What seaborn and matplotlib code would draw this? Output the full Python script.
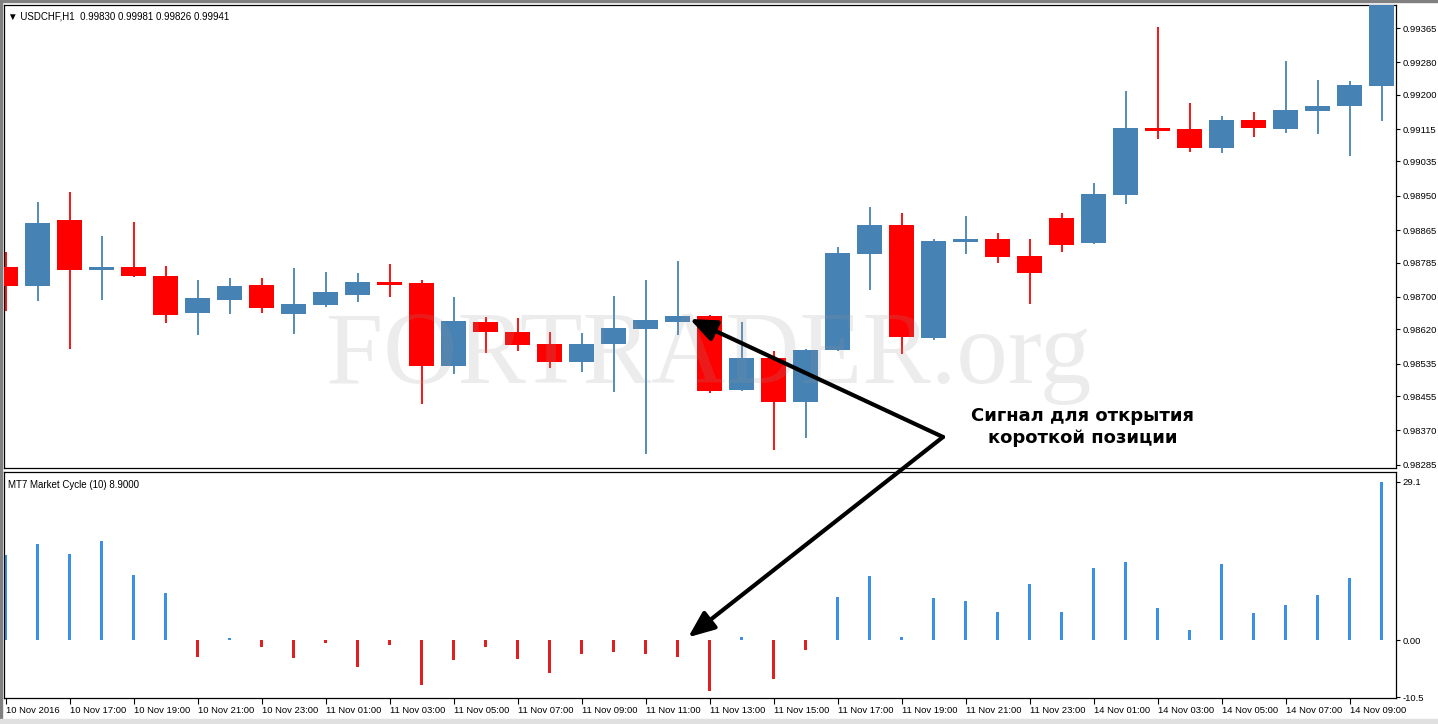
import matplotlib
matplotlib.use("Agg")
import matplotlib.pyplot as plt
from matplotlib.patches import Rectangle
import seaborn as sns
import numpy as np

# --- данные свечей USDCHF H1 ---
opens = [0.98774, 0.98727, 0.98890, 0.98767, 0.98774, 0.98752, 0.98660, 0.98693, 0.98730, 0.98658,
         0.98680, 0.98705, 0.98737, 0.98735, 0.98529, 0.98638, 0.98614, 0.98584, 0.98539, 0.98584,
         0.98621, 0.98638, 0.98653, 0.98470, 0.98549, 0.98441, 0.98569, 0.98806, 0.98878, 0.98599,
         0.98836, 0.98844, 0.98801, 0.98895, 0.98834, 0.98952, 0.99118, 0.99115, 0.99068, 0.99138,
         0.99115, 0.99160, 0.99172, 0.99222]
highs = [0.98811, 0.98935, 0.98960, 0.98851, 0.98886, 0.98777, 0.98742, 0.98747, 0.98747, 0.98772,
         0.98762, 0.98759, 0.98782, 0.98742, 0.98700, 0.98651, 0.98648, 0.98614, 0.98611, 0.98703,
         0.98742, 0.98789, 0.98656, 0.98638, 0.98567, 0.98572, 0.98824, 0.98923, 0.98908, 0.98844,
         0.98900, 0.98858, 0.98844, 0.98908, 0.98982, 0.99209, 0.99367, 0.99180, 0.99148, 0.99157,
         0.99283, 0.99236, 0.99234, 0.99460]
lows = [0.98665, 0.98690, 0.98572, 0.98693, 0.98750, 0.98636, 0.98606, 0.98658, 0.98660, 0.98609,
        0.98675, 0.98688, 0.98700, 0.98436, 0.98510, 0.98562, 0.98567, 0.98525, 0.98515, 0.98465,
        0.98312, 0.98606, 0.98463, 0.98468, 0.98322, 0.98352, 0.98567, 0.98717, 0.98559, 0.98594,
        0.98806, 0.98784, 0.98683, 0.98811, 0.98831, 0.98930, 0.99091, 0.99059, 0.99056, 0.99096,
        0.99106, 0.99103, 0.99049, 0.99135]
closes = [0.98727, 0.98883, 0.98767, 0.98774, 0.98752, 0.98656, 0.98698, 0.98727, 0.98672, 0.98683,
          0.98713, 0.98737, 0.98730, 0.98529, 0.98641, 0.98614, 0.98581, 0.98539, 0.98584, 0.98624,
          0.98643, 0.98653, 0.98468, 0.98549, 0.98441, 0.98569, 0.98809, 0.98878, 0.98601, 0.98839,
          0.98844, 0.98799, 0.98759, 0.98829, 0.98955, 0.99118, 0.99110, 0.99068, 0.99138, 0.99118,
          0.99162, 0.99172, 0.99224, 0.99440]

# индикатор MT7 Market Cycle (10)
cycle = [15.7, 17.7, 15.8, 18.2, 12.0, 8.7, -3.1, 0.4, -1.3, -3.3,
         -0.55, -5.0, -0.9, -8.3, -3.7, -1.3, -3.5, -6.1, -2.6, -2.2,
         -2.6, -3.1, -9.3, 0.55, -7.1, -1.8, 7.9, 11.8, 0.55, 7.7,
         7.2, 5.2, 10.3, 5.2, 13.3, 14.4, 5.9, 1.8, 14.0, 5.0,
         6.4, 8.3, 11.4, 29.1]

time_labels = ["10 Nov 2016", "10 Nov 17:00", "10 Nov 19:00", "10 Nov 21:00", "10 Nov 23:00",
               "11 Nov 01:00", "11 Nov 03:00", "11 Nov 05:00", "11 Nov 07:00", "11 Nov 09:00",
               "11 Nov 11:00", "11 Nov 13:00", "11 Nov 15:00", "11 Nov 17:00", "11 Nov 19:00",
               "11 Nov 21:00", "11 Nov 23:00", "14 Nov 01:00", "14 Nov 03:00", "14 Nov 05:00",
               "14 Nov 07:00", "14 Nov 09:00"]

price_ticks = [0.99365, 0.99280, 0.99200, 0.99115, 0.99035, 0.98950, 0.98865, 0.98785,
               0.98700, 0.98620, 0.98535, 0.98455, 0.98370, 0.98285]
cycle_ticks = [29.1, 0.0, -10.5]
cycle_tick_labels = ["29.1", "0.00", "-10.5"]

signal_bar = 21

BULL = "#4682B4"
BEAR = "#FF0000"
CYC_UP = "#1E90FF"

sns.set_theme(style="white")
plt.rcParams["font.family"] = ["Liberation Sans", "DejaVu Sans"]

W, H = 1438, 724
fig = plt.figure(figsize=(W / 100, H / 100), dpi=100)
ax1 = fig.add_axes([4 / W, 1 - 468 / H, 1392 / W, 463 / H])
ax2 = fig.add_axes([4 / W, 1 - 698 / H, 1392 / W, 226 / H])

x = np.arange(len(opens))
o = np.array(opens)
c = np.array(closes)
up = c >= o
col = np.where(up, BULL, BEAR)

# --- свечи ---
ax1.vlines(x, lows, highs, colors=col, lw=1.3, zorder=2)
ax1.bar(x, np.abs(c - o), bottom=np.minimum(o, c), width=0.78, color=col, linewidth=0, zorder=3)
ax1.set_xlim(-0.05, 43.45)
ax1.set_ylim(0.98277, 0.99422)
ax1.yaxis.tick_right()
ax1.set_yticks(price_ticks, [f"{v:.5f}" for v in price_ticks])
ax1.tick_params(axis="x", bottom=False, labelbottom=False)

# водяной знак
ax1.text(0.506, 0.183, "FORTRADER.org", transform=ax1.transAxes, ha="center", va="baseline",
         fontsize=74, family="Liberation Serif", color="#989898", alpha=0.18, zorder=5)

ax1.text(4 / 1392, 0.985, "\u25bc USDCHF,H1  0.99830 0.99981 0.99826 0.99941", transform=ax1.transAxes,
         ha="left", va="top", fontsize=7, color="black")

ax1.text(0.775, 0.088, "Сигнал для открытия\nкороткой позиции", transform=ax1.transAxes,
         ha="center", va="center", fontsize=13, fontweight="bold", family="DejaVu Sans",
         linespacing=1.3, color="black", zorder=6)

# --- индикатор ---
sns.barplot(x=x, y=cycle, hue=np.where(np.array(cycle) > 0, "up", "down"),
            palette={"up": CYC_UP, "down": BEAR}, dodge=False, width=0.1,
            native_scale=True, errorbar=None, legend=False, ax=ax2, linewidth=0)
ax2.set_xlim(-0.05, 43.45)
ax2.set_ylim(-10.68, 30.94)
ax2.yaxis.tick_right()
ax2.set_yticks(cycle_ticks, cycle_tick_labels)
ax2.set_xticks(x[::2])
ax2.set_xticklabels(time_labels, ha="left")
ax2.set_xlabel("")
ax2.set_ylabel("")
ax2.text(4 / 1392, 0.965, "MT7 Market Cycle (10) 8.9000", transform=ax2.transAxes,
         ha="left", va="top", fontsize=7, color="black")

for ax in (ax1, ax2):
    for s in ax.spines.values():
        s.set_color("black")
        s.set_linewidth(0.9)
    ax.tick_params(axis="y", direction="out", length=3, width=0.8, pad=1.5,
                   labelsize=6.8, colors="black", right=True, left=False)
    ax.grid(False)
ax2.tick_params(axis="x", direction="out", length=4, width=0.8, pad=2, labelsize=6.8,
                colors="black", bottom=True)

# --- стрелки на сигнал ---
vertex = (939 / 1392, 31 / 463)
arrow = dict(arrowstyle="-|>,head_length=0.8,head_width=0.33", lw=3, color="black",
             mutation_scale=20, shrinkA=0, shrinkB=0)
ax1.annotate("", xy=(signal_bar + 0.38, (opens[signal_bar] + closes[signal_bar]) / 2),
             xytext=vertex, textcoords=ax1.transAxes, arrowprops=arrow,
             annotation_clip=False, zorder=7)
ax2.annotate("", xy=(signal_bar + 0.33, 0.5), xytext=vertex, textcoords=ax1.transAxes,
             arrowprops=arrow, annotation_clip=False, zorder=7)

# рамка окна терминала
fig.patches.append(Rectangle((0, 0), 2 / W, 1, transform=fig.transFigure, color="#808080", zorder=0))
fig.patches.append(Rectangle((0, 1 - 2 / H), 1, 2 / H, transform=fig.transFigure, color="#808080", zorder=0))
fig.patches.append(Rectangle((0, 0), 1, 5 / H, transform=fig.transFigure, color="#e0e0e0", zorder=0))

fig.savefig("out.png", dpi=100)
